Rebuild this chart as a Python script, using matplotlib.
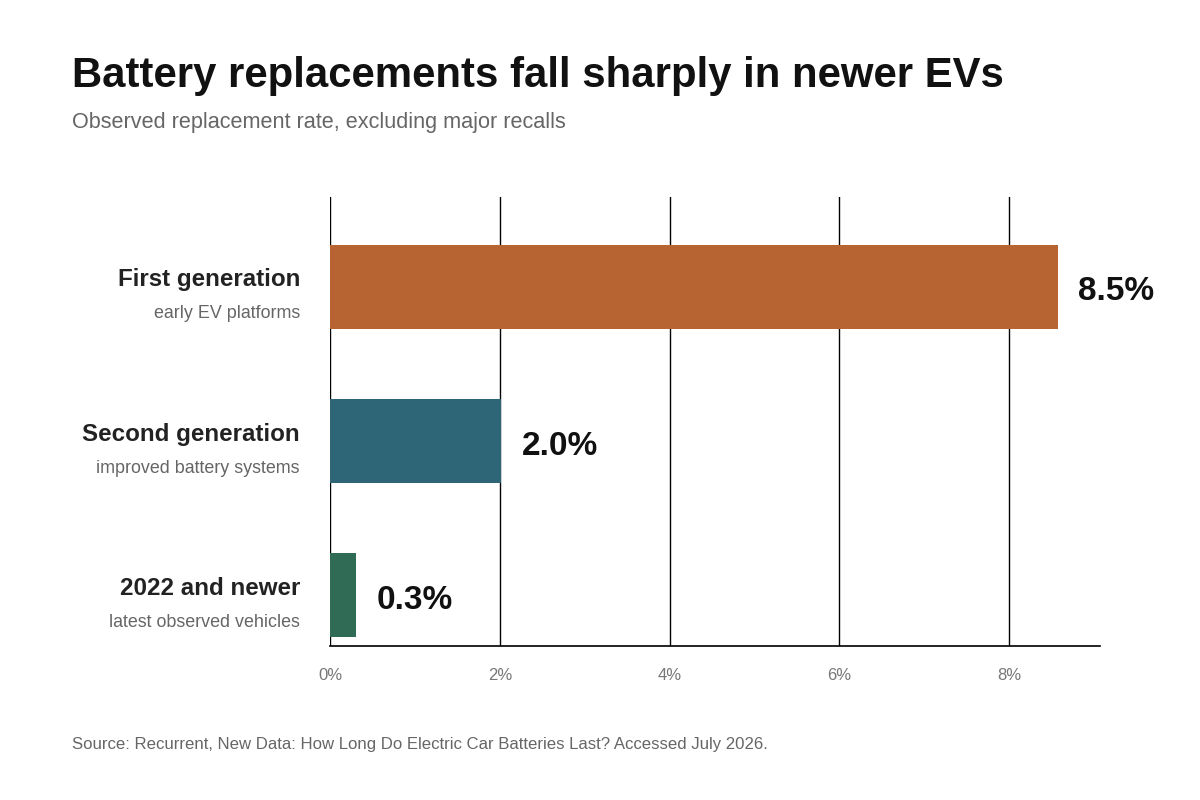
import numpy as np
import matplotlib.pyplot as plt

plt.rcParams['font.family'] = ['Liberation Sans', 'DejaVu Sans']

# data
categories = ['First generation', 'Second generation', '2022 and newer']
subtitles = ['early EV platforms', 'improved battery systems', 'latest observed vehicles']
values = [8.57, 2.02, 0.31]
value_labels = ['8.5%', '2.0%', '0.3%']
colors = ['#B86432', '#2E6678', '#2F6B55']
xticks = [0, 2, 4, 6, 8]
xtick_labels = ['0%', '2%', '4%', '6%', '8%']

fig = plt.figure(figsize=(12, 8), dpi=100)
ax = fig.add_axes([0.275, 0.1925, 0.6417, 0.56125])

y = np.arange(len(categories))
ax.barh(y, values, height=0.545, color=colors, zorder=3)

ax.set_xlim(0, 9.07)
ax.set_ylim(2.33, -0.584)

for xv in xticks:
    ax.axvline(xv, color='black', lw=1.0, zorder=1)

ax.set_xticks(xticks)
ax.set_xticklabels(xtick_labels, fontsize=12, color='#777777')
ax.tick_params(axis='x', length=0, pad=16)
ax.set_yticks([])

for s in ['top', 'right', 'left']:
    ax.spines[s].set_visible(False)
ax.spines['bottom'].set_color('black')
ax.spines['bottom'].set_linewidth(1.2)

# value labels at bar ends
for i, (v, lab) in enumerate(zip(values, value_labels)):
    ax.annotate(lab, (v, i), xytext=(20, -5), textcoords='offset pixels',
                ha='left', va='center', fontsize=24, fontweight='bold', color='#111111')

# two-line category labels
for i, (c, s) in enumerate(zip(categories, subtitles)):
    ax.annotate(c, (0, i), xytext=(-30, 7), textcoords='offset pixels',
                ha='right', va='center', fontsize=17.4, fontweight='bold', color='#222222')
    ax.annotate(s, (0, i), xytext=(-30, -27), textcoords='offset pixels',
                ha='right', va='center', fontsize=12.9, color='#666666')

fig.text(0.06, 0.905, 'Battery replacements fall sharply in newer EVs',
         fontsize=30.2, fontweight='bold', color='#111111', va='center')
fig.text(0.06, 0.847, 'Observed replacement rate, excluding major recalls',
         fontsize=15.6, color='#666666', va='center')
fig.text(0.06, 0.07, 'Source: Recurrent, New Data: How Long Do Electric Car Batteries Last? Accessed July 2026.',
         fontsize=12.1, color='#666666', va='center')

fig.savefig('out.png', dpi=100, facecolor='white')
